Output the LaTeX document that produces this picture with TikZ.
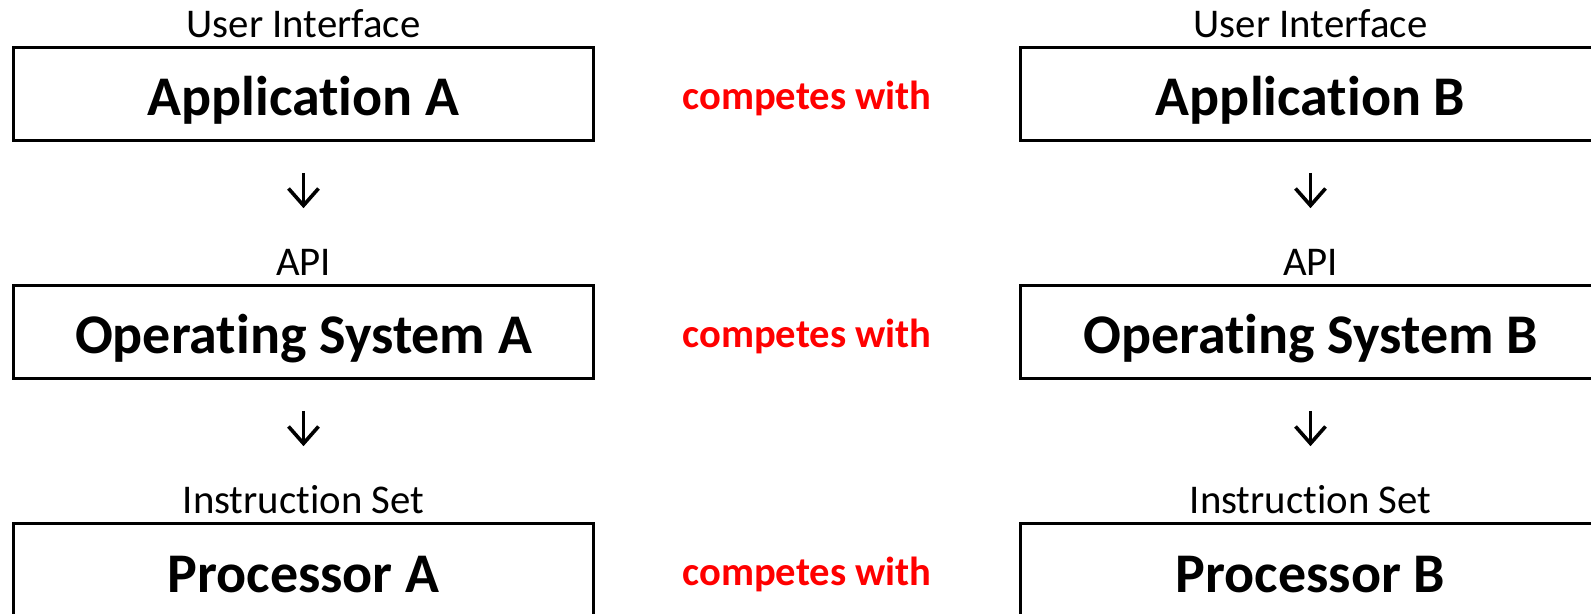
\documentclass[tikz,border=0pt]{standalone}
\usepackage{fontspec}
\setmainfont{Carlito}[Ligatures=NoCommon]
\usetikzlibrary{positioning, arrows.meta, calc}

\begin{document}
\begin{tikzpicture}[
        x = 0.5pt, y = -0.5pt,
        node distance = 72.5pt and 213.5pt,
        layer/.style  = {draw, line width=1.5pt, rectangle, minimum width=290pt, minimum height=46.5pt, inner sep=0pt, outer sep=0pt, text height=21.5pt, text depth=0pt, font=\fontsize{28}{32}\selectfont\bfseries},
        iface/.style  = {inner sep=0pt, text height=13pt, text depth=0pt, font=\fontsize{20.4}{24}\selectfont},
        rival/.style  = {inner sep=0pt, anchor=base, text=red, font=\fontsize{20.3}{24}\selectfont\bfseries},
        downarr/.style = {-{Straight Barb[length=8.5pt, width=15pt]}, line width=1.8pt, shorten <=16pt, shorten >=20.5pt},
    ]
        \useasboundingbox (0,0) rectangle (1591,614);

        % stack A
        \node[layer] (appA) at (303.5,94.5) {Application A};
        \node[layer, below=of appA] (osA) {Operating System A};
        \node[layer, below=of osA] (cpuA) {Processor A};

        % stack B
        \node[layer, right=of appA] (appB) {Application B};
        \node[layer, below=of appB] (osB) {Operating System B};
        \node[layer, below=of osB] (cpuB) {Processor B};

        % interface labels
        \node[iface, above=5pt of appA] (uiA) {User Interface};
        \node[iface, above=5pt of osA] (apiA) {API};
        \node[iface, above=5pt of cpuA] (isaA) {Instruction Set};
        \node[iface, above=5pt of appB] (uiB) {User Interface};
        \node[iface, above=5pt of osB] (apiB) {API};
        \node[iface, above=5pt of cpuB] (isaB) {Instruction Set};

        \node[rival] (vsApp) at ($(appA.east)!0.5!(appB.west) + (0,15.5)$) {competes with};
        \node[rival] (vsOS) at ($(osA.east)!0.5!(osB.west) + (0,15.5)$) {competes with};
        \node[rival] (vsCPU) at ($(cpuA.east)!0.5!(cpuB.west) + (0,15.5)$) {competes with};

        \draw[downarr] (appA) -- (apiA);
        \draw[downarr] (osA) -- (isaA);
        \draw[downarr] (appB) -- (apiB);
        \draw[downarr] (osB) -- (isaB);
    \end{tikzpicture}
\end{document}
